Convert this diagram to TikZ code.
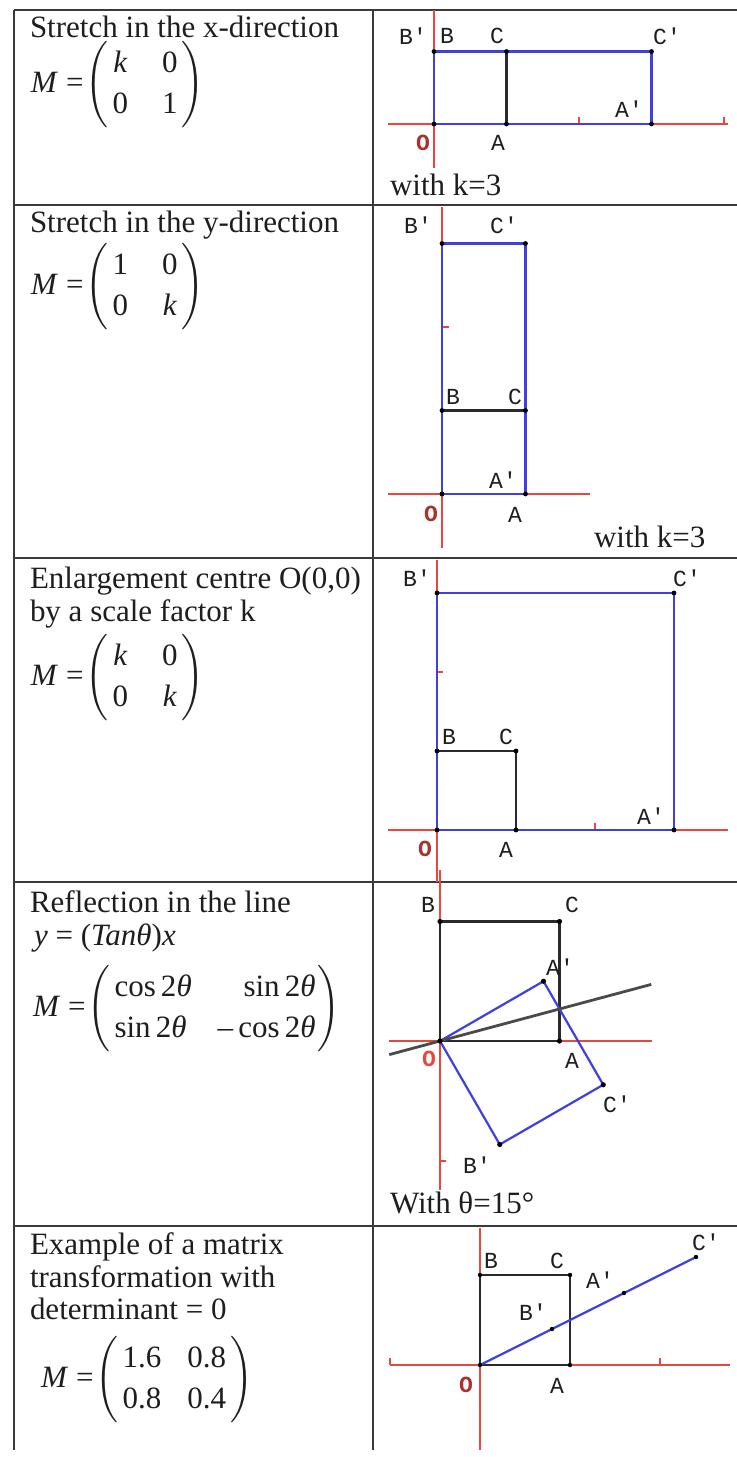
\documentclass[tikz,border=0pt]{standalone}
\usepackage{amsmath}
\usepackage{fontspec}
\setmainfont{Liberation Serif}
\newfontfamily\ptfont{Liberation Mono}
\usepackage{tikz}
\usetikzlibrary{positioning}
\definecolor{AxisRed}{HTML}{E8473F}
\definecolor{ImgBlue}{HTML}{4040E0}
\definecolor{ObjBlack}{HTML}{2A2A2A}
\definecolor{OriginRed}{HTML}{A8322E}
\definecolor{RuleGrey}{HTML}{3A3A3A}
\definecolor{MirrorGrey}{HTML}{4A4A4A}
\definecolor{TextBlack}{HTML}{1E1E1E}
\newcommand{\prm}{\char"27\relax}
\newcommand{\lhs}{\textit{M}\hspace{4pt}=\hspace{1pt}}
\renewcommand{\arraystretch}{1.15}

\begin{document}
\begin{tikzpicture}[x=0.5pt, y=-0.5pt,
  every node/.style={inner sep=0pt, outer sep=0pt},
  title/.style={anchor=base west, font=\fontsize{15.5}{17.5}\selectfont, text=TextBlack},
  mat/.style={anchor=west, font=\fontsize{15.5}{17.5}\selectfont, text=TextBlack},
  lbl/.style={font=\ptfont\fontsize{11.5}{12}\selectfont, text=TextBlack},
  olbl/.style={font=\ptfont\bfseries\fontsize{11.5}{12}\selectfont, text=OriginRed},
  rule/.style={RuleGrey, line width=1pt},
  axis/.style={AxisRed, line width=1pt},
  obj/.style={ObjBlack, line width=1.05pt},
  img/.style={ImgBlue, line width=1.1pt},
  mirror/.style={MirrorGrey, line width=1.4pt}
]
  \useasboundingbox (0,0) rectangle (737,1457);
  \fill[white] (0,0) rectangle (737,1457);

  % Table rules
  \draw[rule] (14,10) -- (737,10);
  \draw[rule] (14,205) -- (737,205);
  \draw[rule] (14,558) -- (737,558);
  \draw[rule] (14,882) -- (737,882);
  \draw[rule] (14,1226) -- (737,1226);
  \draw[rule] (14,10) -- (14,1450);
  \draw[rule] (373,10) -- (373,1450);

  % Row 1: stretch in x
  \node[title] (t1) at (30,37) {Stretch in the x-direction};
  \node[mat] (mat1) at (31,85) {\lhs$\left(\begin{array}{@{\hspace{2pt}}c@{\hspace{17pt}}c@{\hspace{2pt}}} \textit{k} & \text{0} \\ \text{0} & \text{1}\end{array}\right)$};
  \begin{scope}[shift={(434,124)}, x=36.25pt, y=36.25pt]
    \coordinate (O1) at (0,0);
    \coordinate (A1) at (1,0);
    \coordinate (B1) at (0,1);
    \coordinate (C1) at (1,1);
    \coordinate (A1i) at (3,0);
    \coordinate (C1i) at (3,1);
    \draw[axis] (-0.63,0) -- (4.05,0);
    \draw[axis] (0,1.57) -- (0,-0.6);
    \draw[axis] (2,0) -- (2,0.09) (4,0) -- (4,0.09);
    \draw[obj] (O1) -- (A1) -- (C1) -- (B1) -- cycle;
    \draw[img] (O1) -- (A1i) -- (C1i) -- (B1) -- cycle;
    \foreach \p in {O1,A1,B1,C1,A1i,C1i} \fill (\p) circle (1.2pt);
  \end{scope}
  \node[lbl] (lB1i) at (413,36) {B\prm};
  \node[lbl] (lB1) at (447,36) {B};
  \node[lbl] (lC1) at (497,36) {C};
  \node[lbl] (lC1i) at (667,36) {C\prm};
  \node[lbl] (lA1i) at (629,109) {A\prm};
  \node[olbl] (lO1) at (423,143) {O};
  \node[lbl] (lA1) at (498,143) {A};
  \node[title] (k1) at (390,195) {with k=3};

  % Row 2: stretch in y
  \node[title] (t2) at (30,232) {Stretch in the y-direction};
  \node[mat] (mat2) at (31,287) {\lhs$\left(\begin{array}{@{\hspace{2pt}}c@{\hspace{17pt}}c@{\hspace{2pt}}} \text{1} & \text{0} \\ \text{0} & \textit{k}\end{array}\right)$};
  \begin{scope}[shift={(442,494)}, x=41.75pt, y=41.75pt]
    \coordinate (O2) at (0,0);
    \coordinate (A2) at (1,0);
    \coordinate (B2) at (0,1);
    \coordinate (C2) at (1,1);
    \coordinate (B2i) at (0,3);
    \coordinate (C2i) at (1,3);
    \draw[axis] (-0.65,0) -- (1.77,0);
    \draw[axis] (0,3.44) -- (0,-0.65);
    \draw[axis] (0,2) -- (0.08,2);
    \draw[obj] (O2) -- (A2) -- (C2) -- (B2) -- cycle;
    \draw[img] (O2) -- (A2) -- (C2i) -- (B2i) -- cycle;
    \foreach \p in {O2,A2,B2,C2,B2i,C2i} \fill (\p) circle (1.2pt);
  \end{scope}
  \node[lbl] (lB2i) at (418,225) {B\prm};
  \node[lbl] (lC2i) at (504,225) {C\prm};
  \node[lbl] (lB2) at (453,397) {B};
  \node[lbl] (lC2) at (515,397) {C};
  \node[lbl] (lA2i) at (503,480) {A\prm};
  \node[olbl] (lO2) at (431,514) {O};
  \node[lbl] (lA2) at (515,515) {A};
  \node[title] (k2) at (594,547) {with k=3};

  % Row 3: enlargement
  \node[title] (t3a) at (30,588) {Enlargement centre O(0,0)};
  \node[title] (t3b) at (30,621) {by a scale factor k};
  \node[mat] (mat3) at (31,678) {\lhs$\left(\begin{array}{@{\hspace{2pt}}c@{\hspace{17pt}}c@{\hspace{2pt}}} \textit{k} & \text{0} \\ \text{0} & \textit{k}\end{array}\right)$};
  \begin{scope}[shift={(437,830)}, x=39.5pt, y=39.5pt]
    \coordinate (O3) at (0,0);
    \coordinate (A3) at (1,0);
    \coordinate (B3) at (0,1);
    \coordinate (C3) at (1,1);
    \coordinate (A3i) at (3,0);
    \coordinate (B3i) at (0,3);
    \coordinate (C3i) at (3,3);
    \draw[axis] (-0.62,0) -- (3.68,0);
    \draw[axis] (0,3.42) -- (0,-0.66);
    \draw[axis] (2,0) -- (2,0.09) (0,2) -- (0.08,2);
    \draw[obj] (O3) -- (A3) -- (C3) -- (B3) -- cycle;
    \draw[img] (O3) -- (A3i) -- (C3i) -- (B3i) -- cycle;
    \foreach \p in {O3,A3,B3,C3,A3i,B3i,C3i} \fill (\p) circle (1.2pt);
  \end{scope}
  \node[lbl] (lB3i) at (417,578) {B\prm};
  \node[lbl] (lC3i) at (687,578) {C\prm};
  \node[lbl] (lB3) at (449,737) {B};
  \node[lbl] (lC3) at (506,737) {C};
  \node[lbl] (lA3i) at (651,816) {A\prm};
  \node[olbl] (lO3) at (425,849) {O};
  \node[lbl] (lA3) at (506,850) {A};

  % Row 4: reflection
  \node[title] (t4a) at (30,912) {Reflection in the line};
  \node[title] (t4b) at (34,945) {\textit{y} = (\textit{Tanθ})\textit{x}};
  \node[mat] (mat4) at (33,1009) {\lhs$\left(\begin{array}{@{\hspace{2pt}}l@{\hspace{13pt}}r@{\hspace{1pt}}} \text{cos\,2\textit{θ}} & \text{sin\,2\textit{θ}} \\ \text{sin\,2\textit{θ}} & \text{–\,cos\,2\textit{θ}}\end{array}\right)$};
  \begin{scope}[shift={(440,1041)}, x=59.75pt, y=59.75pt]
    \coordinate (O4) at (0,0);
    \coordinate (A4) at (1,0);
    \coordinate (B4) at (0,1);
    \coordinate (C4) at (1,1);
    \coordinate (A4i) at (30:1);
    \coordinate (B4i) at (-60:1);
    \coordinate (C4i) at ({cos(30)+cos(60)},{sin(30)-sin(60)});
    \coordinate (M4a) at (195:0.44);
    \coordinate (M4b) at (15:1.83);
    \draw[axis] (-0.43,0) -- (1.77,0);
    \draw[axis] (0,1.43) -- (0,-1.25);
    \draw[axis] (0,-1) -- (0.05,-1);
    \draw[obj] (O4) -- (A4) -- (C4) -- (B4) -- cycle;
    \draw[img] (O4) -- (A4i) -- (C4i) -- (B4i) -- cycle;
    \draw[mirror] (M4a) -- (M4b);
    \foreach \p in {O4,A4,B4,C4,A4i,B4i,C4i} \fill (\p) circle (1.3pt);
  \end{scope}
  \node[lbl] (lB4) at (428,905) {B};
  \node[lbl] (lC4) at (572,905) {C};
  \node[lbl] (lA4i) at (560,967) {A\prm};
  \node[olbl, text=AxisRed] (lO4) at (429,1059) {O};
  \node[lbl] (lA4) at (572,1061) {A};
  \node[lbl] (lC4i) at (617,1104) {C\prm};
  \node[lbl] (lB4i) at (477,1165) {B\prm};
  \node[title] (th4) at (390,1213) {With θ=15°};

  % Row 5: singular matrix
  \node[title] (t5a) at (30,1254) {Example of a matrix};
  \node[title] (t5b) at (30,1287) {transformation with};
  \node[title] (t5c) at (30,1319) {determinant = 0};
  \node[mat] (mat5) at (41,1380) {\lhs$\left(\begin{array}{@{\hspace{2pt}}c@{\hspace{13pt}}c@{\hspace{2pt}}} \text{1.6} & \text{0.8} \\ \text{0.8} & \text{0.4}\end{array}\right)$};
  \begin{scope}[shift={(480,1365)}, x=45pt, y=45pt]
    \coordinate (O5) at (0,0);
    \coordinate (A5) at (1,0);
    \coordinate (B5) at (0,1);
    \coordinate (C5) at (1,1);
    \coordinate (A5i) at (1.6,0.8);
    \coordinate (B5i) at (0.8,0.4);
    \coordinate (C5i) at (2.4,1.2);
    \draw[axis] (-1,0) -- (2.78,0);
    \draw[axis] (0,1.52) -- (0,-0.94);
    \draw[axis] (-1,0) -- (-1,0.08) (2,0) -- (2,0.08);
    \draw[obj] (O5) -- (A5) -- (C5) -- (B5) -- cycle;
    \draw[img] (O5) -- (C5i);
    \foreach \p in {O5,A5,B5,C5,A5i,B5i,C5i} \fill (\p) circle (1.1pt);
  \end{scope}
  \node[lbl] (lB5) at (491,1261) {B};
  \node[lbl] (lC5) at (557,1261) {C};
  \node[lbl] (lA5i) at (600,1280) {A\prm};
  \node[lbl] (lB5i) at (533,1312) {B\prm};
  \node[lbl] (lC5i) at (706,1242) {C\prm};
  \node[olbl] (lO5) at (466,1385) {O};
  \node[lbl] (lA5) at (557,1386) {A};
\end{tikzpicture}
\end{document}
